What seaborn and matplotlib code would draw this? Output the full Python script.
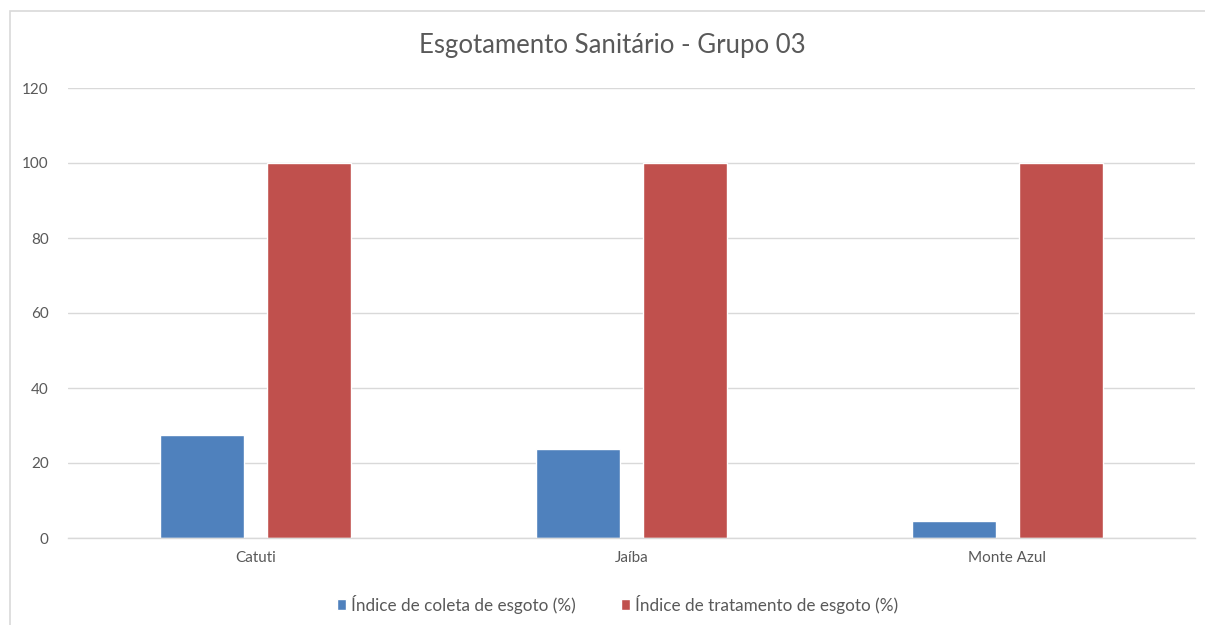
import matplotlib
matplotlib.use("Agg")
import matplotlib.pyplot as plt
from matplotlib.patches import Rectangle
import seaborn as sns
import pandas as pd

municipios = ["Catuti", "Jaíba", "Monte Azul"]
coleta = [27.4, 23.7, 4.6]
tratamento = [100, 100, 100]
series = ["Índice de coleta de esgoto (%)", "Índice de tratamento de esgoto (%)"]
cores = ["#4F81BD", "#C0504D"]
yticks = [0, 20, 40, 60, 80, 100, 120]

df = pd.DataFrame({
    "municipio": municipios * 2,
    "serie": [series[0]] * 3 + [series[1]] * 3,
    "valor": coleta + tratamento,
})

sns.set_theme(style="white")
plt.rcParams["font.family"] = ["Lato", "DejaVu Sans"]
texto = "#595959"

fig = plt.figure(figsize=(12.05, 6.25), dpi=100)
ax = fig.add_axes([68 / 1205, 1 - 538 / 625, 1127 / 1205, 450 / 625])

sns.barplot(data=df, x="municipio", y="valor", hue="serie", palette=cores,
            width=0.57, gap=0.215, ax=ax, legend=True, saturation=1)

ax.set_ylim(0, 120)
ax.set_yticks(yticks)
ax.yaxis.grid(True, color="#D9D9D9", linewidth=1)
ax.set_axisbelow(True)
for s in ["top", "right", "left"]:
    ax.spines[s].set_visible(False)
ax.spines["bottom"].set_color("#D9D9D9")
ax.spines["bottom"].set_linewidth(1)
ax.tick_params(axis="both", length=0, labelsize=11, colors=texto, pad=14)
ax.tick_params(axis="x", pad=9)
ax.set_xlabel("")
ax.set_ylabel("")

leg = ax.legend(loc="center", ncol=2, frameon=False, fontsize=12.3,
                labelcolor=texto, handlelength=0.55, handleheight=0.55,
                handletextpad=0.3, columnspacing=2.6)
leg.set_bbox_to_anchor((0.5 - 14 / 1127, -(604 - 538) / 450), transform=ax.transAxes)

fig.suptitle("Esgotamento Sanitário - Grupo 03", x=612 / 1205, y=1 - 45 / 625,
             va="center", fontsize=18.5, color=texto)

# outer chart frame
fig.patches.append(Rectangle((10 / 1205, -0.05), 1.1, 1 - 11 / 625 + 0.05,
                             transform=fig.transFigure, fill=False,
                             edgecolor="#D9D9D9", linewidth=1.2))

fig.savefig("out.png", dpi=100)
